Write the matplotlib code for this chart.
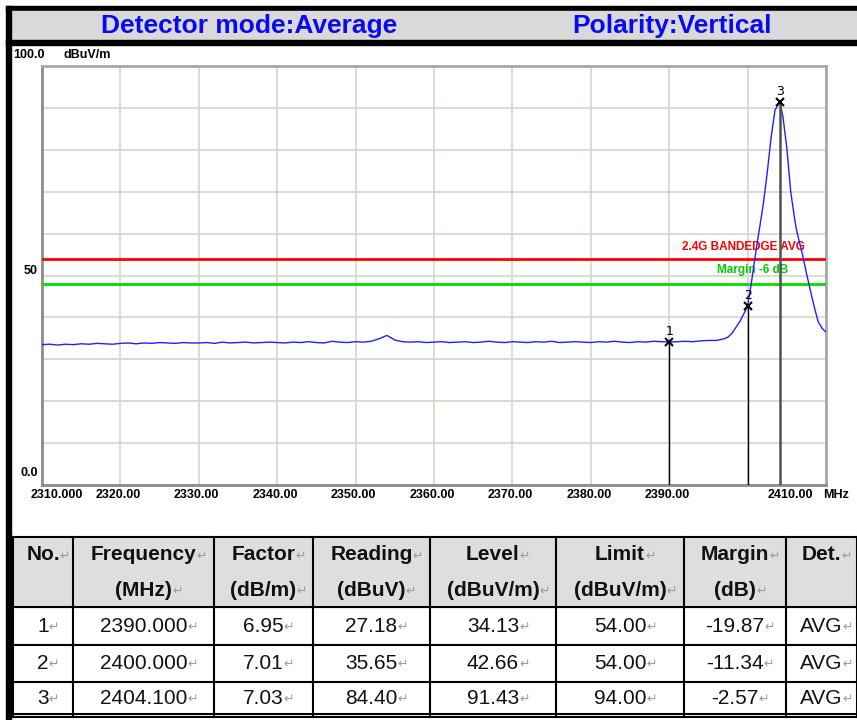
import matplotlib.pyplot as plt
from matplotlib.patches import Rectangle
import numpy as np

# ---- data ----
# noise floor, 1 MHz steps 2310 .. 2396
floor_freq = np.arange(2310, 2397)
floor_level = [
    33.5, 33.6, 33.4, 33.6, 33.5, 33.7, 33.6, 33.8, 33.7, 33.6,
    33.8, 33.9, 33.7, 33.9, 33.8, 34.0, 33.9, 33.8, 34.0, 33.9,
    33.9, 34.0, 33.8, 34.1, 33.9, 34.0, 34.1, 33.9, 34.0, 34.1,
    34.0, 33.9, 34.1, 34.0, 34.2, 34.0, 33.9, 34.3, 34.1, 34.0,
    34.2, 34.1, 34.3, 34.9, 35.7, 34.6, 34.2, 34.1, 34.2, 34.0,
    34.1, 34.2, 34.0, 34.1, 34.2, 34.0, 34.1, 34.3, 34.1, 34.0,
    34.2, 34.1, 34.0, 34.2, 34.1, 34.3, 34.0, 34.1, 34.2, 34.1,
    34.0, 34.2, 34.1, 34.3, 34.1, 34.0, 34.2, 34.1, 34.3, 34.2,
    34.13, 34.2, 34.3, 34.2, 34.4, 34.5, 34.5,
]
# carrier skirt
peak_freq = [2396.5, 2397.0, 2397.5, 2398.0, 2398.5, 2399.0, 2399.5, 2400.0,
             2400.5, 2401.0, 2401.5, 2402.0, 2402.5, 2403.0, 2403.5, 2404.1,
             2404.5, 2405.0, 2405.5, 2406.0, 2406.2, 2406.3, 2406.5, 2407.0,
             2407.5, 2408.0, 2408.5, 2409.0, 2409.5, 2410.0]
peak_level = [34.7, 34.9, 35.3, 36.2, 37.6, 39.0, 40.8, 42.66,
              48.5, 55.0, 61.0, 67.0, 74.5, 83.0, 89.5, 91.43,
              88.0, 80.5, 70.0, 63.5, 61.3, 60.4, 58.8, 55.0,
              50.6, 46.5, 42.5, 39.0, 37.4, 36.5]

limit_line = 54
margin_line = 48

marker_no = [1, 2, 3]
marker_freq = [2390.000, 2400.000, 2404.100]
factor = [6.95, 7.01, 7.03]
reading = [27.18, 35.65, 84.40]
level = [34.13, 42.66, 91.43]
limit = [54.00, 54.00, 94.00]
margin = [-19.87, -11.34, -2.57]
det = ["AVG", "AVG", "AVG"]

x_ticks = [2310, 2320, 2330, 2340, 2350, 2360, 2370, 2380, 2390, 2410]
x_labels = ["2310.000", "2320.00", "2330.00", "2340.00", "2350.00", "2360.00",
            "2370.00", "2380.00", "2390.00", "2410.00"]
y_ticks = [0, 50, 100]
y_labels = ["0.0", "50", "100.0"]

headers = [("No.", ""), ("Frequency", "(MHz)"), ("Factor", "(dB/m)"),
           ("Reading", "(dBuV)"), ("Level", "(dBuV/m)"), ("Limit", "(dBuV/m)"),
           ("Margin", "(dB)"), ("Det.", "")]

W, H = 857, 720
fig = plt.figure(figsize=(W / 100, H / 100), dpi=100)

# background layer in pixel units (frame, title band, table)
bg = fig.add_axes([0, 0, 1, 1])
bg.set_xlim(0, W)
bg.set_ylim(H, 0)
bg.axis("off")

bg.add_patch(Rectangle((6, 6), W, 5, color="black"))
bg.add_patch(Rectangle((11, 11), W, 29, color="#d9d9d9"))
bg.add_patch(Rectangle((6, 40), W, 5, color="black"))
bg.add_patch(Rectangle((6, 6), 5, H, color="black"))

hfont = dict(family="Liberation Sans", weight="bold", fontsize=19, color="#0a0af0",
             va="center")
bg.text(249, 26, "Detector mode:Average", ha="center", **hfont)
bg.text(672, 26, "Polarity:Vertical", ha="center", **hfont)

# ---- spectrum chart ----
ax = fig.add_axes([42 / W, 1 - 485 / H, 784 / W, 419 / H])
ax.set_xlim(2310, 2410)
ax.set_ylim(0, 100)
ax.set_xticks(np.arange(2310, 2411, 10))
ax.set_yticks(np.arange(0, 101, 10))
ax.tick_params(length=0, labelbottom=False, labelleft=False)
ax.grid(color="#d8d4cc", linewidth=1.2)
for side, sp in ax.spines.items():
    sp.set_color("#8c8c8c" if side in ("left", "bottom") else "#a8a8a8")
    sp.set_linewidth(2)

ax.axhline(limit_line, color="#ff0000", lw=2, zorder=3)
ax.axhline(margin_line, color="#00e000", lw=2, zorder=3)

trace_f = list(floor_freq) + peak_freq
trace_l = floor_level + peak_level
ax.plot(trace_f, trace_l, color="#2020ff", lw=1, zorder=4)

for i in range(len(marker_no)):
    c, lw = ("#505050", 1.8) if i == 2 else ("black", 1)
    ax.vlines(marker_freq[i], 0, level[i], color=c, lw=lw, zorder=5)
    ax.plot(marker_freq[i], level[i], marker="x", ms=6, mew=1.5, color="black", zorder=6)
    ax.annotate(str(marker_no[i]), (marker_freq[i], level[i]), xytext=(0, 3),
                textcoords="offset points", ha="center", va="bottom",
                fontsize=9, family="DejaVu Sans", zorder=6)

small = dict(family="Liberation Sans", weight="bold", fontsize=8.5)
ax.annotate("2.4G BANDEDGE AVG", (2407.3, limit_line), xytext=(0, 6),
            textcoords="offset pixels", ha="right", va="bottom", color="#ff0000", **small)
ax.annotate("Margin -6 dB", (2405.2, margin_line), xytext=(0, 8),
            textcoords="offset pixels", ha="right", va="bottom", color="#00d000", **small)

lab = dict(family="Liberation Sans", weight="bold", fontsize=9, annotation_clip=False)
y_off = {"0.0": (-4, 12), "50": (-4, 4), "100.0": (3, 11)}
for v, s in zip(y_ticks, y_labels):
    ax.annotate(s, (0, v), xycoords=("axes fraction", "data"), xytext=y_off[s],
                textcoords="offset pixels", ha="right", va="center", **lab)
ax.annotate("dBuV/m", (0, 100), xycoords=("axes fraction", "data"), xytext=(22, 11),
            textcoords="offset pixels", ha="left", va="center", **lab)
for v, s in zip(x_ticks, x_labels):
    dx = 15 if v == 2310 else (-36 if v == 2410 else -2)
    ax.annotate(s, (v, 0), xycoords=("data", "axes fraction"), xytext=(dx, -10),
                textcoords="offset pixels", ha="center", va="center", **lab)
ax.annotate("MHz", (1, 0), xycoords="axes fraction", xytext=(10, -10),
            textcoords="offset pixels", ha="center", va="center", **lab)

# ---- marker table ----
col_x = [13, 73, 214, 313, 430, 556, 684, 786, 857]
row_y = [537, 607, 645, 682, 714]

bg.add_patch(Rectangle((col_x[0], row_y[0]), W - col_x[0], row_y[1] - row_y[0],
                       color="#dedede", zorder=1))
for y in row_y:
    bg.plot([col_x[0], W], [y, y], color="black", lw=1.5, zorder=2)
bg.plot([col_x[0], W], [717, 717], color="black", lw=1.5, zorder=2)
for x in col_x:
    bg.plot([x, x], [row_y[0], 717], color="black", lw=1.5, zorder=2)


def cell(x, y, s, bold=False):
    t = bg.text(x, y, s, ha="center", va="center", fontsize=15, family="Liberation Sans",
                weight="bold" if bold else "normal", color="#111111", zorder=3)
    bg.annotate("\u21b5", (1, 0.12), xycoords=t, ha="left", va="bottom", fontsize=9,
                family="DejaVu Sans", color="#9a9a9a", zorder=3)


centers = [(col_x[j] + col_x[j + 1]) / 2 for j in range(len(col_x) - 1)]
for j, (top, bottom) in enumerate(headers):
    cell(centers[j], 555, top, bold=True)
    if bottom:
        cell(centers[j], 590, bottom, bold=True)

for i in range(len(marker_no)):
    yc = (row_y[i + 1] + row_y[i + 2]) / 2
    vals = [str(marker_no[i]), f"{marker_freq[i]:.3f}", f"{factor[i]:.2f}",
            f"{reading[i]:.2f}", f"{level[i]:.2f}", f"{limit[i]:.2f}",
            f"{margin[i]:.2f}", det[i]]
    for j, s in enumerate(vals):
        cell(centers[j], yc, s)

fig.savefig("out.png", dpi=100)
